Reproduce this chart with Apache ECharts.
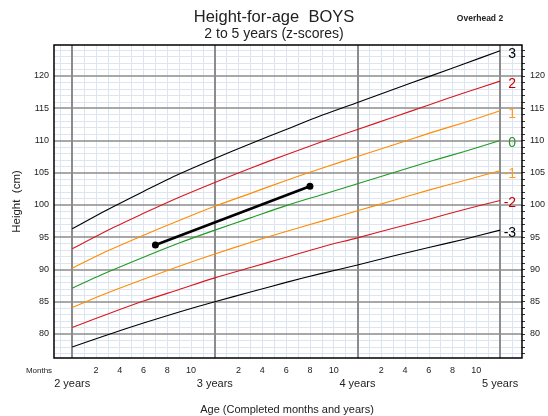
<!DOCTYPE html>
<html><head><meta charset="utf-8">
<script src="https://cdn.jsdelivr.net/npm/echarts@6/dist/echarts.min.js"></script>
<style>html,body{margin:0;padding:0;background:#fff}#c{width:548px;height:416px}</style>
</head><body><div id="c"></div>
<script>
// Age in completed months
const months = [24, 27, 30, 33, 36, 39, 42, 45, 48, 51, 54, 57, 60];
// Height-for-age z-score curves (cm)
const zNeg3 = [78.0, 79.9, 81.7, 83.4, 85.0, 86.5, 88.0, 89.4, 90.7, 92.1, 93.4, 94.7, 96.1];
const zNeg2 = [81.0, 83.1, 85.1, 86.9, 88.7, 90.3, 91.9, 93.5, 94.9, 96.4, 97.8, 99.3, 100.7];
const zNeg1 = [84.1, 86.4, 88.5, 90.5, 92.4, 94.2, 95.9, 97.5, 99.1, 100.7, 102.3, 103.8, 105.3];
const z0    = [87.1, 89.6, 91.9, 94.1, 96.1, 98.0, 99.9, 101.6, 103.3, 105.0, 106.7, 108.3, 110.0];
const zPos1 = [90.2, 92.9, 95.3, 97.6, 99.8, 101.8, 103.8, 105.7, 107.5, 109.3, 111.1, 112.8, 114.6];
const zPos2 = [93.2, 96.1, 98.7, 101.2, 103.5, 105.7, 107.8, 109.8, 111.7, 113.6, 115.5, 117.4, 119.2];
const zPos3 = [96.3, 99.3, 102.1, 104.8, 107.2, 109.5, 111.7, 113.9, 115.9, 117.9, 119.9, 121.9, 123.9];
// Child's measurements
const childAge = [31, 44];
const childHeight = [93.8, 102.9];
// Tick labels
const monthTicks = [26, 28, 30, 32, 34, 38, 40, 42, 44, 46, 50, 52, 54, 56, 58];
const yearTicks = [24, 36, 48, 60];
const heightTicks = [80, 85, 90, 95, 100, 105, 110, 115, 120];

const X_MIN = 22.47, X_MAX = 61.84, Y_MIN = 76.28, Y_MAX = 124.8;
const FONT = 'Liberation Sans, Arial, sans-serif';

const zSeries = [
  {name: '3', data: zPos3, color: '#000000', lab: '#000000'},
  {name: '2', data: zPos2, color: '#d7191c', lab: '#c00000'},
  {name: '1', data: zPos1, color: '#ff8c00', lab: '#ff9922'},
  {name: '0', data: z0, color: '#1f9a1f', lab: '#2a962a'},
  {name: '-1', data: zNeg1, color: '#ff8c00', lab: '#ff9922'},
  {name: '-2', data: zNeg2, color: '#d7191c', lab: '#c00000'},
  {name: '-3', data: zNeg3, color: '#000000', lab: '#000000'}
];

// grid lines via markLine
const minorLines = [], majorLines = [];
for (let m = 23; m <= 61; m++) {
  if (m % 12 !== 0) minorLines.push({xAxis: m});
}
for (let h = 77; h <= 124; h++) {
  if (h % 5 !== 0) minorLines.push({yAxis: h});
}
heightTicks.forEach(h => majorLines.push({yAxis: h, lineStyle: {color: '#8c8c8c', width: 1.6, type: 'solid'}}));
yearTicks.forEach(m => majorLines.push({xAxis: m, lineStyle: {color: '#8c8c8c', width: 2, type: 'solid'}}));

const series = [{
  type: 'line', data: [], z: 1, silent: true,
  markLine: {silent: true, z: 1, symbol: 'none', label: {show: false}, animation: false,
    lineStyle: {color: '#dde5f3', width: 1, type: 'solid'}, data: minorLines}
}, {
  type: 'line', data: [], z: 1, silent: true,
  markLine: {silent: true, z: 1, symbol: 'none', label: {show: false}, animation: false, data: majorLines}
}];
zSeries.forEach(s => {
  series.push({
    type: 'line', name: s.name, z: 3, smooth: 0.3, showSymbol: false, silent: true,
    data: months.map((m, i) => [m, s.data[i]]),
    lineStyle: {color: s.color, width: 1.1},
    endLabel: {show: true, formatter: s.name, color: s.lab, fontSize: 14, fontFamily: FONT,
      align: 'right', verticalAlign: 'middle', distance: 0, offset: [16, 3]}
  });
});
series.push({
  type: 'line', z: 5, silent: true,
  data: childAge.map((a, i) => [a, childHeight[i]]),
  lineStyle: {color: '#000', width: 2.6},
  itemStyle: {color: '#000'},
  symbol: 'circle', symbolSize: 7, showSymbol: true
});

const chart = echarts.init(document.getElementById('c'));
chart.setOption({
  animation: false,
  grid: {left: 54, right: 23, top: 45, bottom: 58, show: true, borderColor: '#000', borderWidth: 1.5, backgroundColor: 'transparent', z: 10},
  xAxis: [{
    type: 'value', min: X_MIN, max: X_MAX, position: 'bottom',
    axisLine: {show: false}, axisTick: {show: false}, splitLine: {show: false},
    axisLabel: {
      customValues: monthTicks.concat(yearTicks), margin: 7, fontFamily: FONT, fontSize: 9, color: '#222', lineHeight: 12,
      formatter: v => yearTicks.indexOf(v) >= 0 ? '\n{y|' + (v / 12) + ' years}' : String(v % 12),
      rich: {y: {fontSize: 11, fontFamily: FONT, color: '#222', lineHeight: 14}}
    }
  }, {
    type: 'value', min: X_MIN, max: X_MAX, position: 'top',
    axisLine: {show: false}, splitLine: {show: false}, axisLabel: {show: false},
    axisTick: {show: true, inside: true, length: 3, customValues: (function(){const a=[];for(let m=23;m<=61;m++)a.push(m);return a;})(), lineStyle: {color: '#333', width: 1}}
  }],
  yAxis: [{
    type: 'value', min: Y_MIN, max: Y_MAX, position: 'left',
    axisLine: {show: false}, axisTick: {show: false}, splitLine: {show: false},
    axisLabel: {customValues: heightTicks, margin: 5, fontFamily: FONT, fontSize: 9, color: '#222'},
    name: 'Height  (cm)', nameLocation: 'middle', nameGap: 31, nameRotate: 90,
    nameTextStyle: {fontFamily: FONT, fontSize: 11.5, color: '#222'}
  }, {
    type: 'value', min: Y_MIN, max: Y_MAX, position: 'right',
    axisLine: {show: false}, splitLine: {show: false},
    axisTick: {show: true, inside: false, length: 3, customValues: (function(){const a=[];for(let h=77;h<=124;h++)a.push(h);return a;})(), lineStyle: {color: '#333', width: 1}},
    axisLabel: {customValues: heightTicks, margin: 8, fontFamily: FONT, fontSize: 9, color: '#222'}
  }],
  graphic: [
    {type: 'text', x: 274, y: 17, style: {text: 'Height-for-age  BOYS', fontFamily: FONT, fontSize: 16.5, fill: '#222', align: 'center', verticalAlign: 'middle'}},
    {type: 'text', x: 274, y: 34, style: {text: '2 to 5 years (z-scores)', fontFamily: FONT, fontSize: 14, fill: '#222', align: 'center', verticalAlign: 'middle'}},
    {type: 'text', x: 480, y: 19, style: {text: 'Overhead 2', fontFamily: FONT, fontSize: 8.5, fontWeight: 'bold', fill: '#222', align: 'center', verticalAlign: 'middle'}},
    {type: 'text', x: 39, y: 371, style: {text: 'Months', fontFamily: FONT, fontSize: 8, fill: '#222', align: 'center', verticalAlign: 'middle'}},
    {type: 'text', x: 287, y: 410, style: {text: 'Age (Completed months and years)', fontFamily: FONT, fontSize: 11, fill: '#222', align: 'center', verticalAlign: 'middle'}}
  ],
  series: series
});
</script></body></html>
